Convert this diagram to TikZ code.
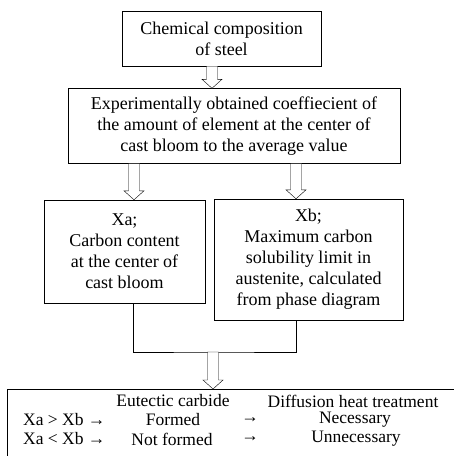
\documentclass[tikz,border=0pt]{standalone}
\usepackage{fontspec}
\setmainfont{Liberation Serif}
\usetikzlibrary{calc}

\tikzset{
        box/.style={draw, align=center, inner sep=0pt, font=\fontsize{18}{21}\selectfont},
        cell/.style={inner sep=0pt, font=\fontsize{17.5}{19}\selectfont},
        fat/.style={draw, fill=white, to path={let \p1=(\tikztostart), \p2=(\tikztotarget) in
                (\x1-5.5pt,\y1) -- (\x1-5.5pt,\y2+9pt) -- (\x1-10pt,\y2+9pt) -- (\x1,\y2)
                -- (\x1+10pt,\y2+9pt) -- (\x1+5.5pt,\y2+9pt) -- (\x1+5.5pt,\y1) -- cycle}}
}

\begin{document}
\begin{tikzpicture}[x=1pt, y=-1pt]
        \useasboundingbox (0,0) rectangle (454,456);
        \begin{scope}
        \clip (0,0) rectangle (454,456);

        \node[box, minimum width=199, minimum height=55] (comp) at (221.5,38.5) {Chemical composition\\of steel};
        \node[box, minimum width=332, minimum height=75] (coef) at (234,126) {Experimentally obtained coeffiecient of\\the amount of element at the center of\\cast bloom to the average value};
        \node[box, minimum width=161, minimum height=103] (xa) at (124.5,251.5) {Xa;\\Carbon content\\at the center of\\cast bloom};
        \node[box, minimum width=189, minimum height=121] (xb) at (308.5,259.5) {Xb;\\Maximum carbon\\solubility limit in\\austenite, calculated\\from phase diagram};
        \node[draw, minimum width=470, minimum height=90, anchor=north west] (res) at (7,389) {};

        \coordinate (join) at (213,352);
        \draw (133,0 |- xa.south) |- (join) -| (296,0 |- xb.south);

        \draw[fat] (212,0 |- comp.south) to (212,0 |- coef.north);
        \draw[fat] (134,0 |- coef.south) to (134,0 |- xa.north);
        \draw[fat] (296,0 |- coef.south) to (296,0 |- xb.north);
        \draw[fat] (join) to (join |- res.north);

        \node[cell] (head1) at (173,401) {Eutectic carbide};
        \node[cell] (head2) at (353,401) {Diffusion heat treatment};
        \node[cell, anchor=west] (gt) at (23,420) {Xa > Xb →};
        \node[cell] (formed) at (173,420) {Formed};
        \node[cell] (arr1) at (250,420) {→};
        \node[cell] (need) at (355,420) {Necessary};
        \node[cell, anchor=west] (lt) at (23,439) {Xa < Xb →};
        \node[cell] (notformed) at (172,439) {Not formed};
        \node[cell] (arr2) at (250,439) {→};
        \node[cell] (noneed) at (356,439) {Unnecessary};
        \end{scope}
\end{tikzpicture}
\end{document}
